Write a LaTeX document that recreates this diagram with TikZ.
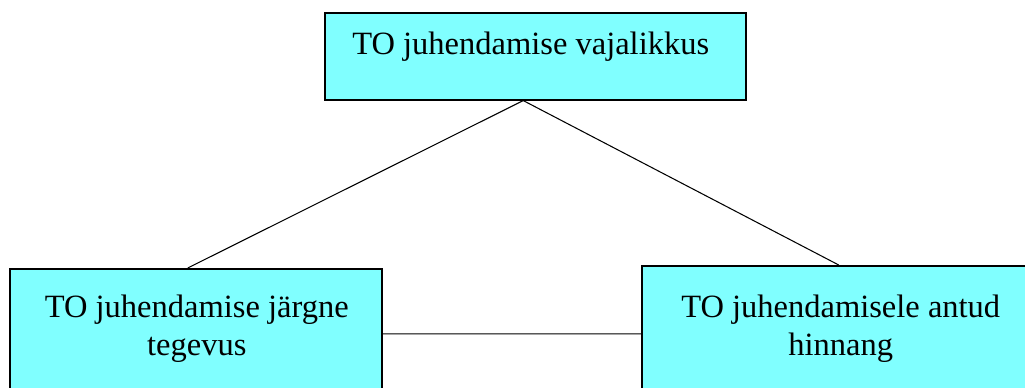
\documentclass[tikz,border=0pt]{standalone}
\usepackage{fontspec}
\setmainfont{Liberation Serif}
\usetikzlibrary{positioning,calc}
\definecolor{kastvarv}{RGB}{128,255,255}
\tikzset{
	kast/.style={draw=black, fill=kastvarv, line width=0.9pt, inner sep=0pt, anchor=north west},
	silt/.style={inner sep=0pt, align=center, font=\fontsize{18.5}{21.6}\selectfont},
	joon/.style={line width=0.6pt}
}
\begin{document}
\begin{tikzpicture}[x=0.02cm,y=-0.02cm]
			\useasboundingbox (0,0) rectangle (1025,387);
			\clip (0,0) rectangle (1025,387);
			
			% kastid
			\node[kast, minimum width=8.42cm, minimum height=1.74cm] (vajadus) at (324,12) {};
			\node[kast, minimum width=7.44cm, minimum height=2.6cm] (tegevus) at (9,268) {};
			\node[kast, minimum width=8cm, minimum height=2.72cm] (hinnang) at (641,265) {};
			
			\node[silt, below=0.4cm of vajadus.north, xshift=-0.09cm] (vajadustekst) {TO juhendamise vajalikkus};
			\node[silt, below=0.54cm of tegevus.north, xshift=0.02cm] (tegevustekst) {TO juhendamise järgne\\tegevus};
			\node[silt, below=0.6cm of hinnang.north, xshift=-0.02cm] (hinnangtekst) {TO juhendamisele antud\\hinnang};
			
			% jooned
			\draw[joon] ($(vajadus.south)+(-12,0)$) -- ($(tegevus.north)+(-8,0)$);
			\draw[joon] ($(vajadus.south)+(-12,0)$) -- ($(hinnang.north)+(-3,0)$);
			\draw[joon] (tegevus.east) -- (hinnang.west);
		\end{tikzpicture}
\end{document}
